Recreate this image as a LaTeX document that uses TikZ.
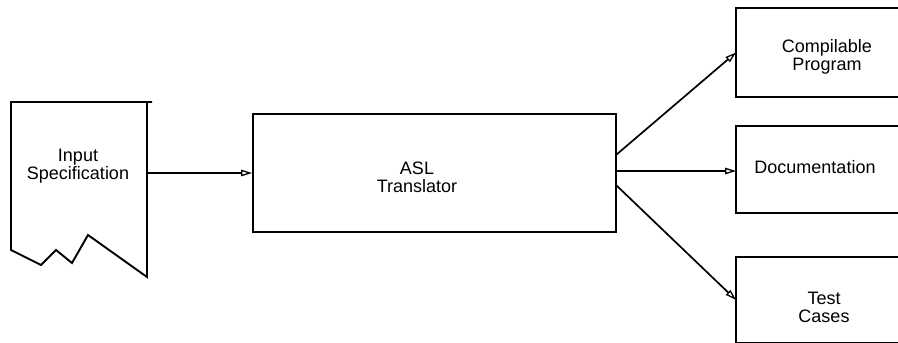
\documentclass[tikz,border=0pt]{standalone}
\usepackage{fontspec}
\setmainfont{Liberation Sans}
\usetikzlibrary{arrows.meta}
\begin{document}
\begin{tikzpicture}[x=1pt,y=-1pt,
  line width=1.9pt,
  boxstyle/.style={draw,line width=1.9pt,inner sep=0pt},
  outbox/.style={inner sep=0pt,minimum width=200pt},
  lbl/.style={font=\fontsize{18}{18}\selectfont,align=center,inner sep=0pt},
  flow/.style={line width=1.7pt,-{Triangle[open,length=11pt,width=6.5pt,line width=1.3pt]}}]
\useasboundingbox (0,0) rectangle (898,343);
\clip (0,0) rectangle (898,343);
% input specification (document shape)
\draw[line width=1.9pt,line join=miter] (152,102) -- (11,102) -- (11,250) -- (41,265) -- (56,250) -- (72,263) -- (88,235) -- (147,277) -- (147,102);
\node[lbl] (inptxt) at (78,166) {Input\\Specification};
\coordinate (inpE) at (148,173);
% translator
\node[boxstyle,minimum width=363pt,minimum height=118pt] (asl) at (434.5,173) {};
\node[lbl] (asltxt) at (417,177) {ASL\\Translator};
% outputs (right sides cut off by the page edge)
\node[outbox,minimum height=87pt] (cp) at (837,52.5) {};
\node[outbox,minimum height=85pt] (doc) at (837,169.5) {};
\node[outbox,minimum height=84pt] (tc) at (837,300) {};
\foreach \b in {cp,doc,tc}
  \draw[line width=1.9pt] (\b.north east) -- (\b.north west) -- (\b.south west) -- (\b.south east);
\node[lbl] (cptxt) at (827,57) {Compilable\\Program};
\node[lbl] (doctxt) at (815,167) {Documentation};
\node[lbl] (tctxt) at (824,307) {Test\\Cases};
\coordinate (aslA) at (616,155);
\coordinate (aslB) at (616,171);
\coordinate (aslC) at (616,185);
\draw[flow] (inpE) -- (asl.west);
\draw[flow] (aslA) -- (cp.west);
\draw[flow] (aslB) -- (doc.west |- aslB);
\draw[flow] (aslC) -- (tc.west);
\end{tikzpicture}
\end{document}
